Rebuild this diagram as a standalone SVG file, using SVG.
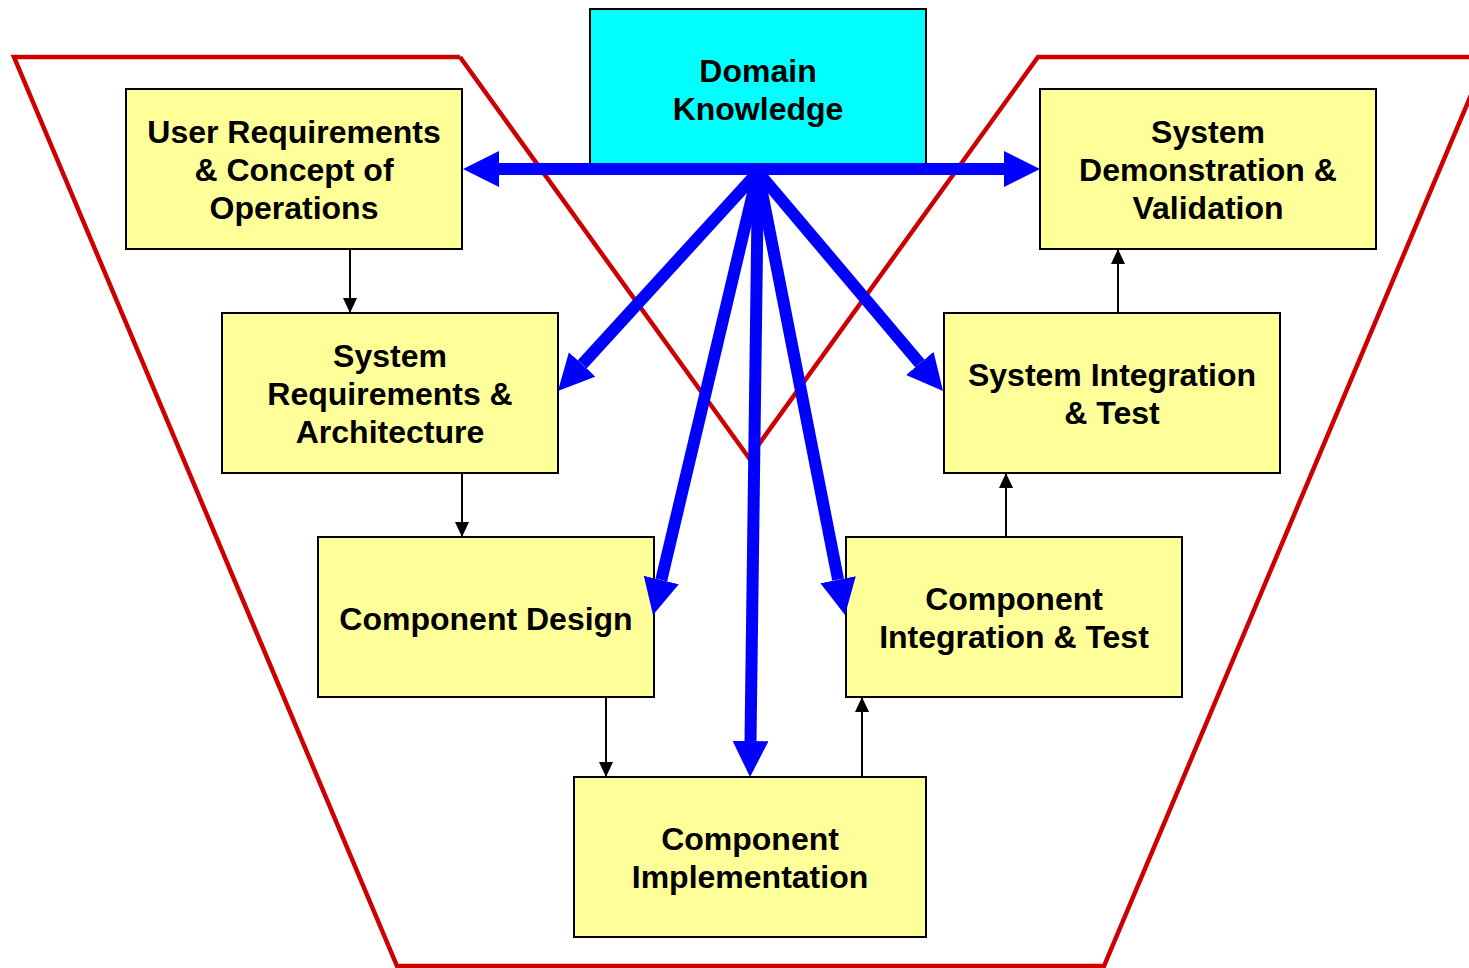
<svg xmlns="http://www.w3.org/2000/svg" width="1469" height="968" viewBox="0 0 1469 968">
<style>
.box{fill:#FFFF99;stroke:#000;stroke-width:2}
.dk{fill:#00FFFF;stroke:#000;stroke-width:2}
.t{font-family:"Liberation Sans",Arial,sans-serif;font-weight:bold;font-size:32px;fill:#000;text-anchor:middle}
.red{fill:none;stroke:#CC0000;stroke-width:4.5}
.blue{fill:none;stroke:#0000FF;stroke-width:12}
.blk{fill:none;stroke:#000;stroke-width:2}
</style>
<defs>
<marker id="bh" markerUnits="userSpaceOnUse" markerWidth="40" markerHeight="40" refX="0" refY="18" orient="auto-start-reverse" viewBox="0 0 40 40">
<path d="M0,0 L36,18 L0,36 Z" fill="#0000FF"/>
</marker>
<marker id="kh" markerUnits="userSpaceOnUse" markerWidth="16" markerHeight="16" refX="15" refY="7" orient="auto" viewBox="0 0 16 16">
<path d="M0,0 L15,7 L0,14 Z" fill="#000"/>
</marker>
</defs>
<g id="frame">
<polyline class="red" points="460,57 14,57 397,966 1104,966 1487,57 1038,57 749,458 460,57"/>
</g>
<g id="domain">
<rect class="dk" x="590" y="9" width="336" height="156"/>
<text class="t" x="758" y="82">Domain</text>
<text class="t" x="758" y="120">Knowledge</text>
</g>
<g id="userreq">
<rect class="box" x="126" y="89" width="336" height="160"/>
<text class="t" x="294" y="143">User Requirements</text>
<text class="t" x="294" y="181">&amp; Concept of</text>
<text class="t" x="294" y="219">Operations</text>
</g>
<g id="sysreq">
<rect class="box" x="222" y="313" width="336" height="160"/>
<text class="t" x="390" y="367">System</text>
<text class="t" x="390" y="405">Requirements &amp;</text>
<text class="t" x="390" y="443">Architecture</text>
</g>
<g id="compdesign">
<rect class="box" x="318" y="537" width="336" height="160"/>
<text class="t" x="486" y="630">Component Design</text>
</g>
<g id="compimpl">
<rect class="box" x="574" y="777" width="352" height="160"/>
<text class="t" x="750" y="850">Component</text>
<text class="t" x="750" y="888">Implementation</text>
</g>
<g id="compinteg">
<rect class="box" x="846" y="537" width="336" height="160"/>
<text class="t" x="1014" y="610">Component</text>
<text class="t" x="1014" y="648">Integration &amp; Test</text>
</g>
<g id="sysinteg">
<rect class="box" x="944" y="313" width="336" height="160"/>
<text class="t" x="1112" y="386">System Integration</text>
<text class="t" x="1112" y="424">&amp; Test</text>
</g>
<g id="sysdemo">
<rect class="box" x="1040" y="89" width="336" height="160"/>
<text class="t" x="1208" y="143">System</text>
<text class="t" x="1208" y="181">Demonstration &amp;</text>
<text class="t" x="1208" y="219">Validation</text>
</g>
<g id="connectors">
<line class="blk" x1="350" y1="249" x2="350" y2="313" marker-end="url(#kh)"/>
<line class="blk" x1="462" y1="473" x2="462" y2="537" marker-end="url(#kh)"/>
<line class="blk" x1="606" y1="697" x2="606" y2="777" marker-end="url(#kh)"/>
<line class="blk" x1="862" y1="777" x2="862" y2="697" marker-end="url(#kh)"/>
<line class="blk" x1="1006" y1="537" x2="1006" y2="473" marker-end="url(#kh)"/>
<line class="blk" x1="1118" y1="313" x2="1118" y2="249" marker-end="url(#kh)"/>
<line class="blue" x1="499" y1="169" x2="1004" y2="169" marker-start="url(#bh)" marker-end="url(#bh)"/>
<line class="blue" x1="758" y1="172" x2="582.2" y2="364.4" marker-end="url(#bh)"/>
<line class="blue" x1="758" y1="172" x2="661.3" y2="580" marker-end="url(#bh)"/>
<line class="blue" x1="758" y1="172" x2="750.5" y2="741" marker-end="url(#bh)"/>
<line class="blue" x1="758" y1="172" x2="838.1" y2="579.7" marker-end="url(#bh)"/>
<line class="blue" x1="758" y1="172" x2="919.8" y2="363.4" marker-end="url(#bh)"/>
</g>
</svg>
